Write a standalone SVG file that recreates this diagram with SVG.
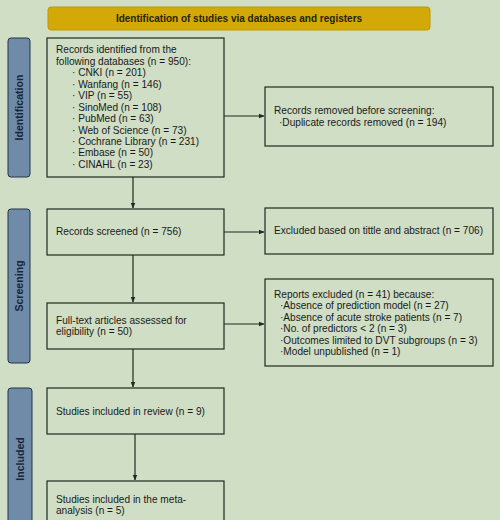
<svg xmlns="http://www.w3.org/2000/svg" width="500" height="520" viewBox="0 0 500 520">
<defs>
<style>
.bg{fill:#cfdec4}
.box{fill:none;stroke:#1f2a1f;stroke-width:1.2}
.side{fill:#6f8ba8;stroke:#24344a;stroke-width:1}
.t{font-family:"Liberation Sans",Arial,sans-serif;font-size:10.1px;fill:#1a1a1a}
.st{font-family:"Liberation Sans",Arial,sans-serif;font-size:10.6px;font-weight:bold;fill:#17263a;text-anchor:middle}
.hd{font-family:"Liberation Sans",Arial,sans-serif;font-size:10px;font-weight:bold;fill:#2a2200;text-anchor:middle}
.ln{stroke:#1f2a1f;stroke-width:1.2;fill:none;marker-end:url(#ah)}
</style>
<marker id="ah" viewBox="0 0 10 10" refX="9" refY="5" markerWidth="6" markerHeight="6" orient="auto" markerUnits="userSpaceOnUse">
<path d="M0,1 L10,5 L0,9 Z" fill="#1f2a1f"/>
</marker>
</defs>
<rect class="bg" x="0" y="0" width="500" height="520"/>

<g id="header">
<rect x="48" y="7" width="382" height="23" rx="3" fill="#d3a907" stroke="#bf9806" stroke-width="1"/>
<text class="hd" x="239" y="22">Identification of studies via databases and registers</text>
</g>

<g id="side-identification">
<rect class="side" x="8" y="38" width="22" height="139" rx="3"/>
<text class="st" transform="translate(23,107.5) rotate(-90)">Identification</text>
</g>
<g id="side-screening">
<rect class="side" x="8" y="209" width="22" height="154" rx="3"/>
<text class="st" transform="translate(23,286) rotate(-90)">Screening</text>
</g>
<g id="side-included">
<rect class="side" x="8" y="388" width="24" height="140" rx="3"/>
<text class="st" transform="translate(24,459) rotate(-90)">Included</text>
</g>

<g id="records-identified">
<rect class="box" x="47" y="38" width="177" height="139"/>
<text class="t" x="56" y="53.3">Records identified from the</text>
<text class="t" x="56" y="64.8">following databases (n = 950):</text>
<text class="t" x="72" y="76.2">· CNKI (n = 201)</text>
<text class="t" x="72" y="87.7">· Wanfang (n = 146)</text>
<text class="t" x="72" y="99.1">· VIP (n = 55)</text>
<text class="t" x="72" y="110.6">· SinoMed (n = 108)</text>
<text class="t" x="72" y="122">· PubMed (n = 63)</text>
<text class="t" x="72" y="133.5">· Web of Science (n = 73)</text>
<text class="t" x="72" y="145">· Cochrane Library (n = 231)</text>
<text class="t" x="72" y="156.4">· Embase (n = 50)</text>
<text class="t" x="72" y="167.9">· CINAHL (n = 23)</text>
</g>

<g id="records-removed">
<rect class="box" x="265" y="87" width="228" height="59"/>
<text class="t" x="274" y="113.5">Records removed before screening:</text>
<text class="t" x="279" y="125.5">·Duplicate records removed (n = 194)</text>
</g>

<g id="records-screened">
<rect class="box" x="47" y="209" width="177" height="46"/>
<text class="t" x="56" y="235">Records screened (n = 756)</text>
</g>

<g id="excluded-title">
<rect class="box" x="265" y="208" width="228" height="46"/>
<text class="t" x="274" y="234">Excluded based on tittle and abstract (n = 706)</text>
</g>

<g id="full-text">
<rect class="box" x="47" y="303" width="177" height="46"/>
<text class="t" x="56" y="323.5">Full-text articles assessed for</text>
<text class="t" x="56" y="335">eligibility (n = 50)</text>
</g>

<g id="reports-excluded">
<rect class="box" x="265" y="279" width="228" height="87"/>
<text class="t" x="274" y="297.5">Reports excluded (n = 41) because:</text>
<text class="t" x="280" y="309">·Absence of prediction model (n = 27)</text>
<text class="t" x="280" y="320.5">·Absence of acute stroke patients (n = 7)</text>
<text class="t" x="280" y="332">·No. of predictors &lt; 2 (n = 3)</text>
<text class="t" x="280" y="343.5">·Outcomes limited to DVT subgroups (n = 3)</text>
<text class="t" x="280" y="355">·Model unpublished (n = 1)</text>
</g>

<g id="included-review">
<rect class="box" x="47" y="388" width="177" height="46"/>
<text class="t" x="56" y="415">Studies included in review (n = 9)</text>
</g>

<g id="included-meta">
<rect class="box" x="47" y="481" width="177" height="50"/>
<text class="t" x="56" y="502.5">Studies included in the meta-</text>
<text class="t" x="56" y="514">analysis (n = 5)</text>
</g>

<g id="connectors">
<line class="ln" x1="224" y1="116" x2="264" y2="116"/>
<line class="ln" x1="133" y1="177" x2="133" y2="208"/>
<line class="ln" x1="224" y1="232" x2="264" y2="232"/>
<line class="ln" x1="133" y1="255" x2="133" y2="302"/>
<line class="ln" x1="224" y1="324" x2="264" y2="324"/>
<line class="ln" x1="133" y1="349" x2="133" y2="387"/>
<line class="ln" x1="135" y1="434" x2="135" y2="480"/>
</g>
</svg>
